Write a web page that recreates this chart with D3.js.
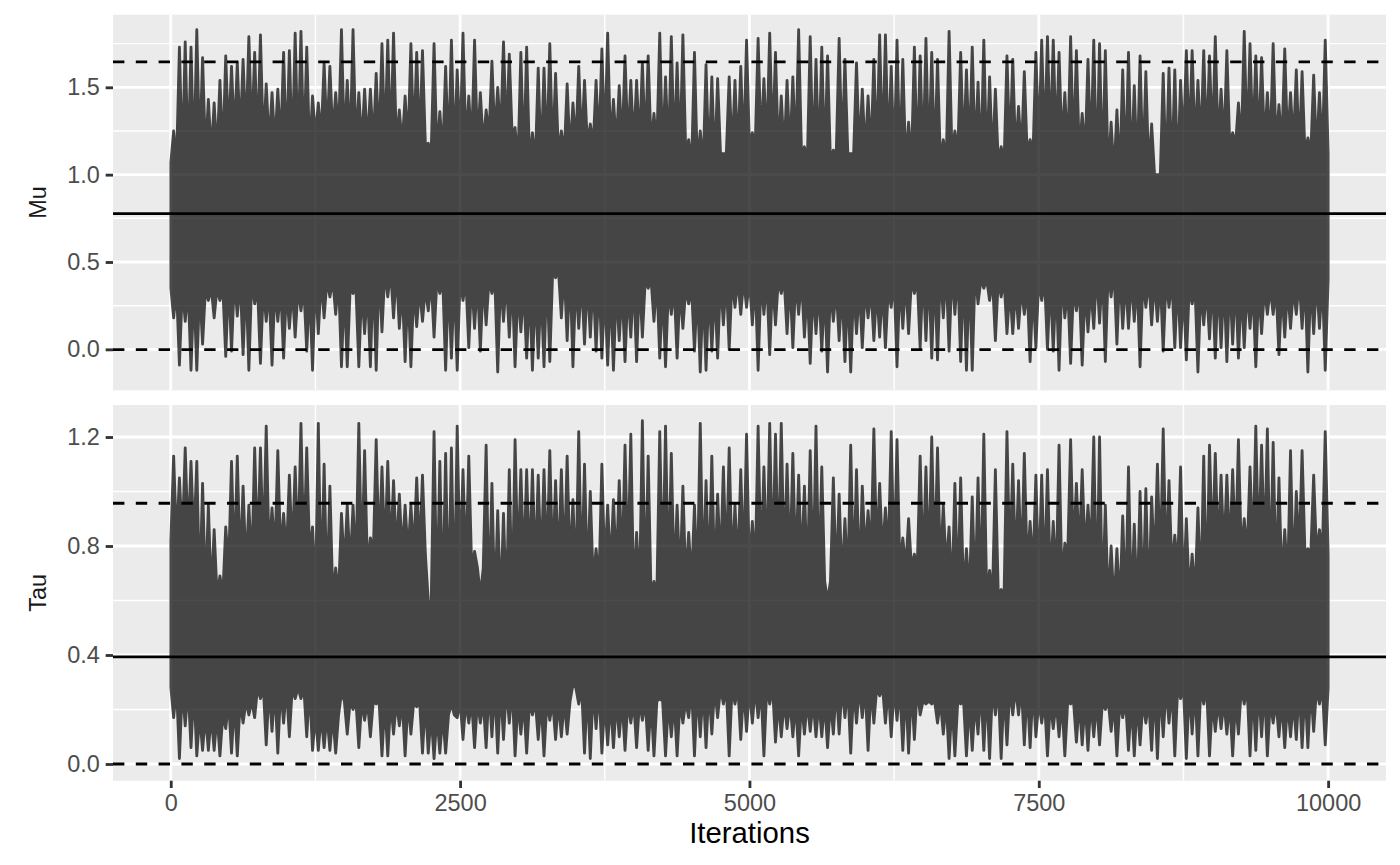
<!DOCTYPE html>
<html><head><meta charset="utf-8">
<script src="https://cdn.jsdelivr.net/npm/d3@7"></script>
<style>body{margin:0;background:#fff}</style>
</head><body>
<svg id="c" width="1400" height="865"></svg>
<script>
// ---- data (trace summarised per 50-iteration bin: highest and lowest draw) ----
const binSize = 50;
const nIter = 10000;
const muHi = [
1.25,1.73,1.76,1.73,1.83,1.67,1.43,1.41,1.54,1.68,
1.62,1.64,1.66,1.79,1.70,1.80,1.52,1.47,1.49,1.70,
1.71,1.81,1.82,1.73,1.45,1.41,1.64,1.62,1.47,1.83,
1.54,1.83,1.47,1.49,1.49,1.58,1.75,1.77,1.81,1.37,
1.45,1.75,1.70,1.71,1.18,1.75,1.36,1.62,1.77,1.60,
1.81,1.45,1.77,1.47,1.37,1.65,1.50,1.76,1.69,1.27,
1.70,1.73,1.24,1.61,1.61,1.75,1.58,1.25,1.52,1.41,
1.62,1.54,1.29,1.54,1.72,1.81,1.43,1.51,1.68,1.54,
1.54,1.64,1.68,1.35,1.81,1.56,1.79,1.64,1.80,1.20,
1.70,1.25,1.63,1.56,1.55,1.12,1.56,1.54,1.62,1.77,
1.24,1.78,1.55,1.81,1.70,1.45,1.54,1.56,1.83,1.16,
1.79,1.66,1.73,1.68,1.14,1.78,1.66,1.12,1.64,1.49,
1.45,1.66,1.80,1.80,1.62,1.77,1.66,1.30,1.73,1.68,
1.78,1.70,1.66,1.20,1.82,1.25,1.70,1.60,1.73,1.53,
1.77,1.56,1.49,1.16,1.68,1.66,1.39,1.59,1.20,1.70,
1.77,1.79,1.77,1.70,1.47,1.79,1.71,1.35,1.66,1.77,
1.75,1.71,1.30,1.37,1.60,1.70,1.51,1.68,1.59,1.29,
1.00,1.58,1.61,1.60,1.54,1.71,1.71,1.54,1.71,1.68,
1.79,1.49,1.71,1.24,1.41,1.82,1.75,1.68,1.67,1.47,
1.75,1.40,1.72,1.47,1.60,1.59,1.21,1.57,1.47,1.77];
const muLo = [
0.18,-0.09,0.16,-0.12,-0.12,0.03,0.28,0.18,0.28,-0.04,
-0.01,0.19,-0.03,-0.12,0.26,-0.08,0.16,-0.09,0.16,-0.05,
0.12,0.07,0.22,-0.01,-0.12,0.09,0.18,0.30,0.20,-0.10,
-0.10,0.32,-0.10,0.09,-0.10,-0.12,0.10,0.30,0.18,0.12,
-0.07,-0.10,0.13,0.16,0.22,0.07,0.32,-0.12,-0.05,-0.12,
0.28,0.01,0.12,-0.01,0.14,0.32,-0.13,0.16,0.07,-0.10,
0.10,-0.05,-0.12,-0.05,-0.10,-0.07,0.41,0.18,0.05,-0.10,
0.12,0.03,0.07,-0.01,-0.05,-0.09,-0.12,0.05,-0.07,0.07,
-0.07,0.07,0.35,0.16,-0.05,-0.10,0.20,-0.05,0.12,0.26,
-0.01,-0.13,-0.12,-0.01,-0.05,0.14,0.00,0.24,0.20,0.24,
0.14,-0.12,0.20,-0.03,0.14,0.32,0.09,0.01,0.20,0.07,
-0.08,0.09,-0.01,-0.13,0.16,0.05,-0.07,-0.13,0.09,0.01,
0.18,0.05,0.07,0.01,0.24,-0.10,0.12,0.09,0.32,0.01,
0.05,-0.05,-0.06,0.18,-0.01,0.20,-0.07,-0.12,-0.12,0.26,
0.35,0.28,0.05,0.30,0.09,0.09,0.12,0.20,-0.07,0.01,
0.28,0.00,-0.01,-0.12,0.18,-0.08,0.22,-0.09,0.10,0.12,
0.15,-0.07,0.30,0.03,0.12,0.12,0.16,-0.10,0.24,0.14,
0.16,-0.01,0.24,0.01,0.01,-0.06,0.26,-0.13,0.14,0.06,
-0.05,0.01,-0.07,0.03,-0.05,0.01,0.12,-0.10,0.09,0.20,
0.20,-0.03,0.07,0.12,0.20,0.12,-0.13,0.09,0.12,-0.12];
const tauHi = [
1.13,1.05,1.16,1.11,1.11,1.03,0.95,0.86,0.69,0.87,
1.11,1.13,1.02,0.95,1.16,1.16,1.24,0.94,1.15,0.92,
1.06,1.09,1.25,1.16,0.87,1.25,1.10,1.02,0.72,0.92,
0.95,0.95,1.25,1.15,0.83,1.19,1.09,1.11,1.04,0.99,
0.95,0.95,1.05,1.06,0.60,1.22,1.11,1.14,1.16,1.24,
1.08,1.13,0.78,0.62,1.17,1.03,0.93,0.92,1.08,1.19,
1.08,1.08,1.08,1.06,1.08,1.15,1.04,1.08,1.13,0.97,
1.22,1.10,1.00,0.79,1.10,0.95,0.97,1.04,1.17,1.21,
0.85,1.26,1.13,0.67,1.22,1.24,1.14,0.95,1.02,0.85,
0.95,1.25,1.04,1.13,0.99,1.09,1.16,0.95,1.08,1.21,
0.89,1.24,1.09,1.25,1.21,1.25,1.10,1.14,1.06,1.02,
1.15,1.24,1.09,0.60,1.05,0.99,0.90,1.17,1.08,1.02,
0.93,1.23,1.03,0.94,1.22,1.19,0.83,0.90,0.77,1.13,
1.09,1.20,1.16,0.95,0.87,1.03,1.05,0.79,0.98,1.05,
1.21,0.71,1.08,0.64,1.22,1.10,1.04,1.14,0.89,1.06,
1.06,1.08,0.89,1.17,0.81,1.19,1.03,1.08,0.95,1.20,
1.20,0.95,0.80,0.79,0.91,1.09,0.88,1.00,1.01,0.98,
1.10,1.23,1.04,0.84,1.09,0.90,0.77,0.94,1.13,1.17,
1.14,1.06,1.06,1.08,1.19,0.90,1.09,1.24,1.17,1.23,
1.18,1.05,0.86,1.15,1.00,1.15,0.79,1.06,0.86,1.22];
const tauLo = [
0.17,0.02,0.14,0.06,0.03,0.05,0.05,0.05,0.03,0.13,
0.04,0.03,0.15,0.18,0.17,0.24,0.07,0.12,0.04,0.15,
0.10,0.24,0.24,0.10,0.05,0.05,0.06,0.05,0.04,0.26,
0.11,0.20,0.06,0.16,0.10,0.22,0.03,0.03,0.11,0.14,
0.03,0.11,0.21,0.04,0.04,0.02,0.04,0.04,0.22,0.17,
0.09,0.15,0.06,0.15,0.06,0.10,0.04,0.09,0.15,0.03,
0.11,0.04,0.18,0.09,0.03,0.16,0.09,0.10,0.11,0.29,
0.22,0.04,0.02,0.13,0.04,0.07,0.06,0.10,0.05,0.15,
0.06,0.16,0.05,0.03,0.24,0.03,0.10,0.03,0.15,0.17,
0.03,0.10,0.06,0.11,0.17,0.22,0.03,0.22,0.09,0.12,
0.15,0.17,0.03,0.22,0.08,0.10,0.13,0.10,0.03,0.11,
0.12,0.10,0.10,0.06,0.11,0.11,0.17,0.04,0.15,0.17,
0.05,0.15,0.25,0.15,0.10,0.16,0.05,0.04,0.09,0.18,
0.22,0.22,0.15,0.11,0.02,0.03,0.22,0.03,0.05,0.11,
0.05,0.02,0.18,0.02,0.07,0.18,0.18,0.07,0.06,0.10,
0.15,0.03,0.13,0.10,0.03,0.22,0.08,0.07,0.05,0.10,
0.07,0.20,0.12,0.03,0.17,0.05,0.03,0.07,0.15,0.05,
0.02,0.10,0.15,0.03,0.24,0.02,0.11,0.03,0.22,0.03,
0.12,0.13,0.11,0.03,0.11,0.22,0.03,0.05,0.10,0.03,
0.15,0.10,0.06,0.10,0.09,0.06,0.06,0.12,0.22,0.07];
// dense core of the trace (where the draws overlap into a solid band), per 250 iterations
const coreSize = 250;
const muCoreHi = [
1.07,1.12,1.22,1.17,1.12,1.22,1.17,1.17,
1.17,1.12,1.17,1.22,1.07,1.12,1.17,1.17,
1.17,1.12,1.05,1.12,1.17,1.12,1.07,1.12,
1.12,1.07,1.07,1.12,1.07,1.12,1.17,1.12,
1.00,1.02,1.00,1.17,1.17,1.17,1.17,1.12];
const muCoreLo = [
0.35,0.35,0.40,0.35,0.35,0.40,0.35,0.45,
0.35,0.40,0.40,0.40,0.35,0.45,0.40,0.35,
0.40,0.35,0.35,0.40,0.40,0.40,0.35,0.35,
0.35,0.40,0.45,0.45,0.40,0.35,0.40,0.35,
0.45,0.40,0.40,0.35,0.40,0.35,0.35,0.40];
const tauCoreHi = [
0.82,0.62,0.72,0.77,0.77,0.62,0.72,0.77,
0.77,0.58,0.72,0.58,0.72,0.72,0.67,0.72,
0.62,0.67,0.67,0.72,0.72,0.72,0.67,0.67,
0.77,0.72,0.72,0.62,0.62,0.72,0.67,0.77,
0.58,0.58,0.72,0.62,0.77,0.77,0.67,0.77];
const tauCoreLo = [
0.28,0.18,0.23,0.28,0.28,0.18,0.23,0.23,
0.23,0.18,0.23,0.28,0.23,0.23,0.28,0.23,
0.23,0.23,0.28,0.28,0.28,0.23,0.23,0.28,
0.28,0.28,0.23,0.23,0.28,0.28,0.23,0.23,
0.23,0.23,0.28,0.28,0.23,0.28,0.23,0.28];
const muRef = [0.777, -0.002, 1.646];   // mean, lower, upper
const tauRef = [0.393, 0.000, 0.957];
const muTicks = [0, 0.5, 1.0, 1.5];
const muMinor = [0.25, 0.75, 1.25, 1.75];
const tauTicks = [0, 0.4, 0.8, 1.2];
const tauMinor = [0.2, 0.6, 1.0];
const xTicks = [0, 2500, 5000, 7500, 10000];
const xMinor = [1250, 3750, 6250, 8750];
const panelNames = ["Mu", "Tau"];
const xTitle = "Iterations";

// ---- layout ----
const svg = d3.select("#c");
const FONT = "'Liberation Sans', Arial, Helvetica, sans-serif";
const L = 113, R = 1386, T = 14.67, B = 780.7, GAP = 14.67;
const PH = (B - T - GAP) / 2;
const LW = 2.84, LWm = 1.42;

const x = d3.scaleLinear().domain([1 - 0.05 * (nIter - 1), nIter + 0.05 * (nIter - 1)]).range([L, R]);

// outline of the trace: each bin's extremes at the bin centre, the dense core level between bins
function trace(hi, lo, cHi, cLo) {
  const per = coreSize / binSize;
  const pts = [];
  hi.forEach((h, i) => {
    const k = Math.floor(i / per);
    pts.push({it: Math.max(1, i * binSize), hi: cHi[k], lo: cLo[k]});
    pts.push({it: i * binSize + binSize / 2, hi: h, lo: lo[i]});
  });
  pts.push({it: nIter, hi: cHi[cHi.length - 1], lo: cLo[cLo.length - 1]});
  return pts;
}

const panels = [
  {name: panelNames[0], data: trace(muHi, muLo, muCoreHi, muCoreLo), ref: muRef,
   ticks: muTicks, minor: muMinor, domain: [-0.2347, 1.9158], top: T},
  {name: panelNames[1], data: trace(tauHi, tauLo, tauCoreHi, tauCoreLo), ref: tauRef,
   ticks: tauTicks, minor: tauMinor, domain: [-0.0613, 1.3174], top: T + PH + GAP}
];

panels.forEach((p, idx) => {
  const y = d3.scaleLinear().domain(p.domain).range([p.top + PH, p.top]);
  const g = svg.append("g");
  g.append("rect").attr("x", L).attr("y", p.top).attr("width", R - L).attr("height", PH).attr("fill", "#EBEBEB");
  g.selectAll(".hm").data(p.minor).join("line")
    .attr("x1", L).attr("x2", R).attr("y1", d => y(d)).attr("y2", d => y(d))
    .attr("stroke", "#fff").attr("stroke-width", LWm);
  g.selectAll(".vm").data(xMinor).join("line")
    .attr("y1", p.top).attr("y2", p.top + PH).attr("x1", d => x(d)).attr("x2", d => x(d))
    .attr("stroke", "#fff").attr("stroke-width", LWm);
  g.selectAll(".hM").data(p.ticks).join("line")
    .attr("x1", L).attr("x2", R).attr("y1", d => y(d)).attr("y2", d => y(d))
    .attr("stroke", "#fff").attr("stroke-width", LW);
  g.selectAll(".vM").data(xTicks).join("line")
    .attr("y1", p.top).attr("y2", p.top + PH).attr("x1", d => x(d)).attr("x2", d => x(d))
    .attr("stroke", "#fff").attr("stroke-width", LW);
  // trace, opaque inside a 0.7-opacity group
  const tg = g.append("g").attr("opacity", 0.7);
  const area = d3.area().x(d => x(d.it)).y0(d => y(d.lo)).y1(d => y(d.hi));
  tg.append("path").datum(p.data).attr("d", area).attr("fill", "#000")
    .attr("stroke", "#000").attr("stroke-width", LW).attr("stroke-linejoin", "round");
  p.ref.forEach((v, k) => {
    g.append("line").attr("x1", L).attr("x2", R).attr("y1", y(v)).attr("y2", y(v))
      .attr("stroke", "#000").attr("stroke-width", LW)
      .attr("stroke-dasharray", k === 0 ? null : "11.4,11.4");
  });
  const ya = d3.axisLeft(y).tickValues(p.ticks).tickFormat(d3.format(".1f")).tickSize(7.33).tickPadding(5.87);
  const ag = svg.append("g").attr("transform", `translate(${L},0)`).call(ya);
  ag.select(".domain").remove();
  ag.selectAll(".tick line").attr("stroke", "#333333").attr("stroke-width", LW);
  ag.selectAll(".tick text").attr("fill", "#4D4D4D").style("font-family", FONT).style("font-size", "23.47px");
  svg.append("text").attr("transform", `translate(38,${p.top + PH / 2}) rotate(-90)`)
    .attr("text-anchor", "middle").attr("dy", "0.36em")
    .style("font-family", FONT).style("font-size", "23.47px").attr("fill", "#1A1A1A").text(p.name);
  if (idx === 1) {
    const xa = d3.axisBottom(x).tickValues(xTicks).tickFormat(d3.format("d")).tickSize(7.33).tickPadding(5.87);
    const xg = svg.append("g").attr("transform", `translate(0,${p.top + PH})`).call(xa);
    xg.select(".domain").remove();
    xg.selectAll(".tick line").attr("stroke", "#333333").attr("stroke-width", LW);
    xg.selectAll(".tick text").attr("fill", "#4D4D4D").style("font-family", FONT).style("font-size", "23.47px");
  }
});

svg.append("text").attr("x", (L + R) / 2).attr("y", 843).attr("text-anchor", "middle")
  .style("font-family", FONT).style("font-size", "29.33px").attr("fill", "#000").text(xTitle);
</script>
</body></html>
